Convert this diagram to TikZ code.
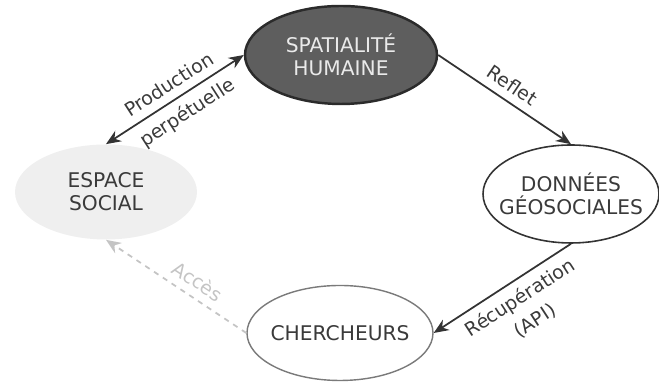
\documentclass[tikz,border=0pt]{standalone}
\usepackage{fontspec}
\setmainfont{DejaVu Sans}
\usetikzlibrary{shapes.geometric,arrows.meta}

\definecolor{spatfill}{HTML}{5E5E5E}
\definecolor{spatline}{HTML}{2B2B2B}
\definecolor{spattext}{HTML}{EAEAEA}
\definecolor{espfill}{HTML}{EFEFEF}
\definecolor{darktext}{HTML}{3A3A3A}
\definecolor{cherline}{HTML}{7A7A7A}
\definecolor{linkcol}{HTML}{333333}
\definecolor{accescol}{HTML}{C4C4C4}

\tikzset{
	ellip/.style={shape=ellipse, inner sep=0pt, minimum width=#1},
	ntext/.style={align=center, text=darktext, font=\fontsize{11.5pt}{13pt}\selectfont},
	lbl/.style={sloped, inner sep=4.5pt, text=darktext, font=\fontsize{10.8pt}{12.5pt}\selectfont},
	link/.style={linkcol, line width=1pt, -{Stealth[length=8.5pt,width=7pt]}},
}

\begin{document}
\begin{tikzpicture}
	\useasboundingbox (0, 0) rectangle (13.18, 7.66);
	
	\node[ellip=3.84cm, minimum height=1.96cm, fill=spatfill, draw=spatline, line width=1.4pt] (spat) at (6.82, 6.56) {};
	\node[ellip=3.52cm, minimum height=1.96cm, draw=linkcol, line width=0.9pt]                  (don)  at (11.42, 3.78) {};
	\node[ellip=3.64cm, minimum height=1.90cm, fill=espfill]                                    (esp)  at (2.12, 3.82)  {};
	\node[ellip=3.72cm, minimum height=1.90cm, draw=cherline, line width=0.8pt]                 (cher) at (6.80, 1.00)  {};
	
	\node[ntext, text=spattext] (spat-t) at (spat) {SPATIALITÉ\\HUMAINE};
	\node[ntext]                (don-t)  at (don)  {DONNÉES\\GÉOSOCIALES};
	\node[ntext]                (esp-t)  at (esp)  {ESPACE\\SOCIAL};
	\node[ntext]                (cher-t) at (cher) {CHERCHEURS};
	
	\path[link, {Stealth[length=8.5pt,width=7pt]}-{Stealth[length=8.5pt,width=7pt]}] (esp.north) edge node[lbl, above, pos=0.52] {Production} node[lbl, below, pos=0.52] {perpétuelle} (spat.west);
	\path[link] (spat.east) edge node[lbl, above, pos=0.49] {Reflet} (don.north);
	\path[link] (don.south) edge node[lbl, below, pos=0.44, align=center] {Récupération\\[3pt](API)} (cher.east);
	\path[link, accescol, dashed] (cher.west) edge node[lbl, above, pos=0.41, text=accescol] {Accès} (esp.south);
\end{tikzpicture}
\end{document}
